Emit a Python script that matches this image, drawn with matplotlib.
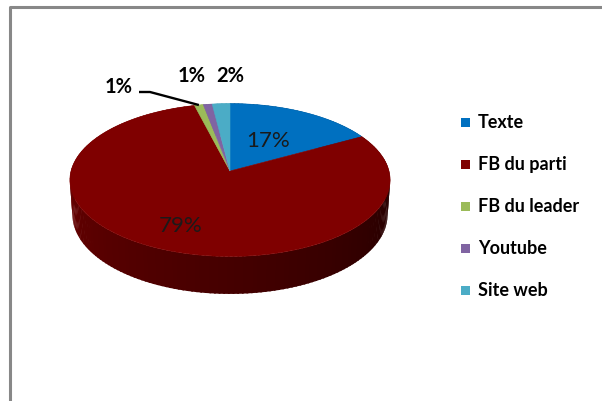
import numpy as np
import matplotlib
matplotlib.use("Agg")
import matplotlib.pyplot as plt
from matplotlib.patches import Polygon

plt.rcParams['font.family'] = ['Lato', 'DejaVu Sans']

# data
categories = ["Texte", "FB du parti", "FB du leader", "Youtube", "Site web"]
values = [17, 79, 1, 1, 2]
labels = ["17%", "79%", "1%", "1%", "2%"]
colors = ["#0070C0", "#7F0000", "#9BBB59", "#8064A2", "#4BACC6"]

# layout of the fake 3D pie (pixels)
CX, CY = 230, 172          # apex on screen
U = 159                    # unit radius in px
ELEV = np.radians(28.3)    # tilt
PERSP = 0.134              # perspective strength
H = 0.25                   # pie thickness (unit radius)


def proj(phi, y=0.0, r=1.0):
    X = r * np.cos(phi)
    Z = r * np.sin(phi)
    v = Z * np.sin(ELEV) + y * np.cos(ELEV)
    w = Z * np.cos(ELEV) - y * np.sin(ELEV)
    s = 1.0 / (1.0 + PERSP * w)
    return CX + U * X * s, CY - U * v * s


def shade(hexc, f):
    c = np.array(matplotlib.colors.to_rgb(hexc))
    return tuple(np.clip(c * f, 0, 1))


fig = plt.figure(figsize=(6.02, 4.02), dpi=100)
ax = fig.add_axes([0, 0, 1, 1])
ax.set_xlim(0, 602)
ax.set_ylim(402, 0)
ax.axis("off")

# slice angles, clockwise from the top
frac = np.array(values, float) / sum(values)
edges = np.radians(90 - 360 * np.concatenate([[0], np.cumsum(frac)]))

# side wall (drawn back to front)
quads = []
eps = np.radians(0.6)
for i in range(len(values)):
    a1, a2 = edges[i], edges[i + 1]
    n = max(4, int(abs(a2 - a1) / np.radians(1.5)))
    ph = np.linspace(a1, a2, n + 1)
    for p0, p1 in zip(ph[:-1], ph[1:]):
        pm = 0.5 * (p0 + p1)
        depth = np.sin(pm)
        # lighter on the left, darker to the right
        deg = np.degrees(pm) % 360
        t = np.clip((deg - 180) / 180, 0, 1) if deg >= 180 else (0 if deg > 90 else 1)
        f = 0.82 - 0.55 * t
        q1 = p1 - eps
        quads.append((depth, [proj(p0), proj(q1), proj(q1, -H), proj(p0, -H)], shade(colors[i], f)))
quads.sort(key=lambda q: -q[0])
for _, pts, col in quads:
    ax.add_patch(Polygon(pts, closed=True, facecolor=col, edgecolor="none", lw=0))

# top face
for i in range(len(values)):
    ph = np.linspace(edges[i], edges[i + 1], 120)
    pts = [(CX, CY)] + [proj(p) for p in ph]
    ax.add_patch(Polygon(pts, closed=True, facecolor=colors[i], edgecolor=colors[i], lw=0.4))

# labels inside
mid = 0.5 * (edges[:-1] + edges[1:])
for i, rr in [(0, 0.5), (1, 0.72)]:
    x, y = proj(mid[i], r=rr)
    ax.text(x, y, labels[i], ha="center", va="center", fontsize=16, color="#1a1a1a")

# labels outside
out_pos = {2: (119, 87), 3: (192, 76), 4: (230, 76)}
for i, (x, y) in out_pos.items():
    ax.text(x, y, labels[i], ha="center", va="center", fontsize=14.5,
            fontweight="bold", color="black")
rx, ry = proj(mid[2])
ax.plot([139, 150, rx], [93, 93, ry], color="black", lw=1.7, solid_capstyle="butt")

# legend
leg_y0, leg_dy = 123, 42
for i, name in enumerate(categories):
    y = leg_y0 + i * leg_dy
    ax.add_patch(Polygon([(461, y - 4.5), (470, y - 4.5), (470, y + 4.5), (461, y + 4.5)],
                         closed=True, facecolor=colors[i], edgecolor="none"))
    ax.text(478, y, name, ha="left", va="center", fontsize=13, fontweight="bold", color="black")

# chart frame
ax.plot([9.5, 9.5, 602], [402, 7.5, 7.5], color="#888888", lw=2.2, solid_capstyle="butt")

fig.savefig("out.png", dpi=100)
